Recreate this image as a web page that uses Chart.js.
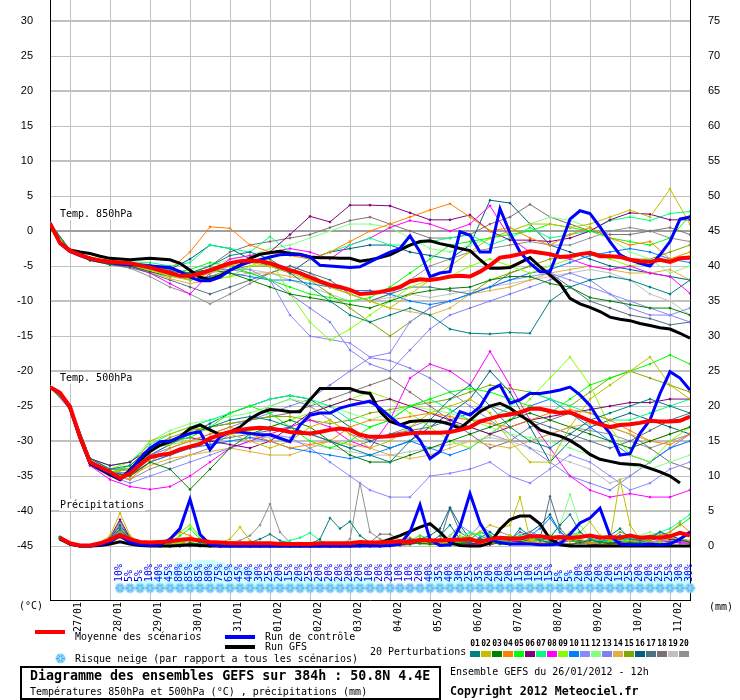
<!DOCTYPE html>
<html lang="fr">
<head>
<meta charset="UTF-8">
<title>Diagramme des ensembles GEFS</title>
<script src="https://cdn.jsdelivr.net/npm/chart.js"></script>
<style>
  body { margin: 0; background: #fff; }
  canvas { display: block; }
</style>
</head>
<body>
<canvas id="gefs" width="740" height="700" style="width:740px;height:700px"></canvas>
<script>
// ---- axes ----
const hours6 = [0,6,12,18,24,30,36,42,48,54,60,66,72,78,84,90,96,102,108,114,120,126,132,138,144,150,156,162,168,174,180,186,192,198,204,210,216,222,228,234,240,246,252,258,264,270,276,282,288,294,300,306,312,318,324,330,336,342,348,354,360,366,372,378,384];
const hours12 = [0,12,24,36,48,60,72,84,96,108,120,132,144,156,168,180,192,204,216,228,240,252,264,276,288,300,312,324,336,348,360,372,384];
const precipHours = hours6.slice(1);
const dayTicks = [12,36,60,84,108,132,156,180,204,228,252,276,300,324,348,372];
const dayLabels = ['27/01','28/01','29/01','30/01','31/01','01/02','02/02','03/02','04/02','05/02','06/02','07/02','08/02','09/02','10/02','11/02'];
const leftTicks = [-45,-40,-35,-30,-25,-20,-15,-10,-5,0,5,10,15,20,25,30];
const rightTicks = [0,5,10,15,20,25,30,35,40,45,50,55,60,65,70,75];

// ---- 850 hPa (°C, 6h) ----
const mean850 = [1.1,-1.7,-2.8,-3.4,-3.9,-4.2,-4.4,-4.5,-4.6,-4.9,-5.2,-5.6,-6.0,-6.4,-6.4,-6.1,-5.6,-5.1,-4.6,-4.3,-4.2,-4.3,-4.6,-5.1,-5.6,-6.0,-6.6,-7.2,-7.7,-8.0,-8.4,-9.0,-8.9,-8.7,-8.4,-8.0,-7.2,-6.9,-7.0,-6.8,-6.5,-6.4,-6.5,-5.8,-4.9,-3.8,-3.6,-3.3,-2.9,-3.1,-3.3,-3.7,-3.6,-3.3,-3.1,-3.6,-3.6,-3.7,-4.1,-4.3,-4.4,-4.1,-4.4,-3.9,-3.8];
const ctrl850 = [1.1,-1.8,-2.9,-3.5,-4.0,-4.3,-4.5,-4.7,-4.8,-4.9,-5.0,-5.1,-5.2,-5.8,-6.6,-7.1,-7.1,-6.6,-5.6,-4.9,-4.4,-4.1,-3.7,-3.4,-3.3,-3.4,-3.7,-4.9,-5.0,-5.1,-5.2,-5.1,-4.4,-3.7,-3.0,-2.5,-0.7,-3.0,-6.5,-6.0,-5.8,-0.1,-0.6,-3.0,-3.0,3.2,-0.3,-3.0,-4.6,-5.8,-5.8,-2.2,1.7,2.9,2.5,0.6,-1.5,-3.4,-4.1,-4.6,-5.0,-3.4,-1.5,1.7,2.0];
const gfs850 = [1.1,-1.7,-2.7,-3.0,-3.2,-3.6,-3.9,-4.0,-4.1,-4.0,-3.9,-4.0,-4.1,-4.6,-5.6,-6.6,-6.9,-6.4,-5.6,-4.9,-3.9,-3.3,-3.1,-2.9,-3.2,-3.3,-3.7,-3.8,-3.8,-3.9,-3.9,-4.3,-4.1,-3.8,-3.4,-2.7,-2.0,-1.5,-1.4,-1.8,-2.1,-2.5,-2.8,-4.1,-5.3,-5.3,-5.2,-4.5,-3.8,-5.1,-6.3,-7.5,-9.6,-10.4,-10.9,-11.5,-12.3,-12.6,-12.8,-13.2,-13.5,-13.8,-14.0,-14.6,-15.3];

// ---- 500 hPa (°C, 6h) ----
const mean500 = [-22.3,-23.1,-25.1,-29.4,-33.0,-33.7,-34.4,-35.3,-34.6,-33.4,-32.3,-32.0,-31.8,-31.2,-30.8,-30.4,-29.6,-29.1,-28.7,-28.4,-28.2,-28.1,-28.2,-28.4,-28.7,-28.8,-28.9,-28.7,-28.4,-28.2,-28.4,-29.1,-29.4,-29.4,-29.3,-29.1,-28.9,-28.8,-28.8,-28.8,-28.7,-28.4,-28.0,-27.2,-26.8,-26.4,-26.2,-25.9,-25.4,-25.4,-25.7,-26.0,-25.9,-26.5,-27.1,-27.6,-28.0,-27.7,-27.6,-27.4,-27.1,-27.2,-27.2,-27.1,-26.5];
const ctrl500 = [-22.3,-23.1,-25.2,-29.5,-33.1,-33.9,-34.6,-35.5,-34.3,-32.5,-31.0,-30.1,-30.0,-29.4,-28.9,-28.7,-31.2,-29.4,-28.7,-28.7,-28.9,-29.1,-29.1,-29.6,-30.1,-27.7,-26.3,-26.0,-26.0,-25.3,-24.9,-24.6,-24.3,-25.3,-26.5,-27.7,-28.2,-29.9,-32.5,-31.5,-28.4,-25.8,-26.3,-25.1,-22.7,-22.0,-24.6,-24.1,-23.2,-23.2,-23.0,-22.7,-22.3,-23.4,-24.9,-27.2,-28.9,-32.0,-31.8,-28.9,-27.0,-23.2,-20.1,-21.0,-22.7];
const gfs500 = [-22.3,-23.1,-25.3,-29.6,-33.2,-34.0,-34.8,-35.5,-34.1,-32.7,-31.5,-30.6,-30.1,-29.4,-28.2,-27.7,-28.4,-29.1,-28.7,-28.0,-26.8,-26.0,-25.5,-25.6,-25.8,-25.8,-24.1,-22.5,-22.5,-22.5,-22.5,-23.0,-23.2,-25.8,-27.2,-27.7,-27.2,-27.1,-27.1,-27.2,-27.6,-28.2,-27.0,-25.8,-25.0,-24.6,-25.3,-26.3,-27.2,-28.4,-28.9,-29.3,-29.9,-30.8,-31.9,-32.6,-32.9,-33.2,-33.3,-33.4,-33.9,-34.4,-35.0,-36.0,null];

// ---- précipitations (mm / 6h, from 6h) ----
const meanPrecip = [1.2,0.4,0.1,0.1,0.4,0.9,1.6,1.0, 0.6,0.5,0.6,0.7,0.9,1.0,0.8,0.6, 0.5,0.4,0.4,0.4,0.4,0.4,0.3,0.3, 0.3,0.3,0.4,0.4,0.4,0.4,0.6,0.5, 0.5,0.6,0.7,0.6,0.9,0.8,0.8,0.9, 0.9,1.0,0.6,1.0,1.2,1.1,1.1,1.4, 1.4,1.2,1.3,1.2,1.3,1.5,1.2,1.3, 1.2,1.5,1.2,1.3,1.2,1.4,1.9,1.5];
const ctrlPrecip = [1.2,0.3,0,0,0.2,0.6,1.5,0.5, 0.2,0.1,0.2,1.0,2.5,6.7,1.7,0.2, 0,0,0,0,0,0,0,0, 0,0,0,0,0,0,0,0, 0,0.1,0.3,2.0,5.9,0.9,0.1,0.2, 2.8,7.5,3.3,0.9,0.5,0.3,0.3,0.3, 0.2,0.2,0.3,1.7,3.3,4.0,5.4,1.5, 0.3,0.2,0.2,0.3,0.2,0.3,1.0,2.0];
const gfsPrecip = [1.0,0.3,0,0,0.1,0.3,0.6,0.3, 0.1,0,0,0,0.1,0.2,0.1,0, 0,0,0,0,0,0,0,0, 0,0,0,0,0,0,0.1,0.2, 0.5,1.0,1.5,2.1,2.7,3.2,2.0,0.5, 0.1,0,0,0.4,2.4,3.8,4.3,4.3, 3.2,1.0,0.2,0,0,0,0,0, 0,0,0,0,0,0,0,0];

// ---- 20 perturbations (12h for temperatures, 6h for precipitation) ----
const memberColors = ['#008080','#c0c000','#008000','#ff8000','#00ff00','#800080','#00ff80','#ff00ff','#80ff00','#0080ff','#8888ff','#80ff80','#8080f0','#e0b040','#80a800','#006080','#507080','#807070','#c0c0c0','#909090'];

const pert850 = [
  [1.1,-2.7,-3.8,-4.3,-4.5,-4.8,-5.5,-6,-5,-3.5,-3, -4,-6,-8,-10,-12,-13,-12,-11,-12,-14,-14.6, -14.7,-14.5,-14.6,-10,-8,-7,-6.5,-7,-8,-9,-7],
  [1.1,-2.8,-3.9,-4.5,-4.7,-5.5,-6.5,-7,-6,-5,-4.5, -5,-6,-7,-8,-9,-10,-11,-9,-7,-5,-3, -1,0,1,1,0.5,1,2,3,2,6,1],
  [1.1,-2.9,-4.2,-4.8,-5,-5.8,-6.5,-6,-5.5,-6,-7, -8,-9,-9.5,-10,-10.5,-11,-10,-9,-8.5,-8.2,-8, -7,-6.5,-6.5,-7.5,-8,-9.5,-10,-10.5,-11,-11,-12],
  [1.1,-2.7,-3.8,-4.2,-4.5,-5,-5.5,-3,0.6,0.4,-2, -3,-3.5,-4,-3,-1.5,0,1,2,3,3.9,2, 0,0.5,-1,-2,-0.5,0.5,-1,-2,-1.5,-4,-3],
  [1.1,-2.8,-4,-4.6,-4.8,-5.5,-6,-5.5,-4.5,-5,-6, -7,-8,-9,-9.5,-10,-9.5,-8,-6,-4,-2,-1.5, -1,-0.5,0,1,0.5,0,-1,-1.5,-2,-1,2.2],
  [1.1,-2.8,-3.9,-4.5,-4.7,-5.2,-5.8,-6,-5.5,-4.5,-4, -3,-0.5,2.1,1.3,3.7,3.7,3.6,2.6,1.6,1.6,2.3, 0,-1.3,-1.3,-1.5,-1,0,1.6,2.6,2.4,1.6,1.6],
  [1.1,-2.7,-3.8,-4.2,-4.4,-4.5,-5,-4.5,-2,-2.5,-3, -0.8,-3,-4,-3,-2,-1,-2,-2,-1.5,-1,-0.5, -2,-1,0.5,-1,-0.5,0,1.5,2,1.5,2.5,2.8],
  [1.1,-2.8,-4,-4.7,-5,-6,-7.5,-9,-6,-4,-3.5, -3,-2.5,-3,-4,-2,-1,0.5,1.5,1,0,1, 3.6,-1,-3,-3.5,-4,-5,-5.5,-5,-6,-6.5,-8.9],
  [1.1,-2.9,-4.1,-4.6,-4.9,-5.6,-6.3,-6.8,-7,-6.5,-5, -4,-9,-13,-15.6,-14,-12,-10,-8,-7,-6.5,-5, -4,-5,-6,-5,-4,-3,-4,-5,-4.5,-4,-3.5],
  [1.1,-2.8,-3.9,-4.4,-4.7,-5.3,-6,-7,-6.5,-6,-6.5, -7,-7,-7.5,-8,-8.5,-8.5,-9,-10,-10.5,-10,-9, -8,-7,-6,-5.5,-4.5,-3.5,-3,-2.5,-3,-4,-4.5],
  [1.1,-2.9,-4.1,-4.7,-5,-5.5,-6,-6.5,-6,-5,-5.5, -7,-12,-15,-15.5,-16,-18,-17.4,-13,-11,-10,-9, -8,-7,-6.5,-6,-7,-8,-9,-10,-11,-12,-11],
  [1.1,-2.8,-3.9,-4.3,-4.6,-5,-5.8,-6,-5,-4,-3.5, -2.5,-2,-1,0,1,1,0.5,-1,-2.5,-3,-2, -1,0,1,2,1.5,0.5,-1,-3,-4,-6,-5],
  [1.1,-2.7,-3.8,-4.4,-4.6,-5,-5.6,-6,-5.5,-5.5,-6, -7,-9,-11,-13,-17,-19,-20,-17,-14,-12,-11, -10,-9,-8,-7,-6,-7,-9,-11,-12,-12,-13],
  [1.1,-2.8,-4,-4.6,-4.9,-5.8,-6.8,-7.5,-7,-6.5,-6, -6,-6.5,-7,-8,-9,-10,-11,-11.5,-12,-11,-9, -8.5,-8,-7,-6,-5.5,-5,-5.5,-6,-6,-5.5,-7],
  [1.1,-2.8,-4,-4.5,-4.8,-5.3,-6.2,-7,-6.5,-5.5,-5, -5,-5.5,-7,-9,-11,-13,-15,-13,-11,-10,-9, -7,-6,-5,-4,-3.5,-3,-3.5,-4,-4,-3,-2],
  [1.1,-2.8,-3.9,-4.4,-4.6,-5,-5.5,-4,-2,-2.5,-4, -5,-6,-4,-3,-2.5,-2,-2,-3,-3.5,-4,-2, 4.4,4,1,-2,-3,-4,-5,-5.5,-6,-6.5,-7],
  [1.1,-2.8,-4,-4.7,-5.2,-6,-7,-8,-9,-8,-7, -6,-5,-6,-7,-9,-10,-9,-8,-8,-8.5,-9, -8,-6,-5,-6,-8,-10,-11,-12,-12.5,-13.4,-13],
  [1.1,-2.8,-3.9,-4.3,-4.6,-5,-5.5,-6,-5,-3,-2, -1.5,-1,-0.5,0.5,1.5,2,1,0,-1,-1,-0.5, 1,2,3.8,2,1,0,-0.5,-0.5,0,0.5,-0.5],
  [1.1,-2.8,-4,-4.5,-4.7,-5.3,-6,-6.5,-6,-5.5,-5.5, -6,-7,-8,-9,-10,-10,-9.5,-9,-9.5,-9,-8.5, -8,-7.5,-7,-6.5,-6,-5.5,-6,-7,-9,-10,-12],
  [1.1,-2.9,-4.2,-4.8,-5.3,-6.5,-8,-9,-10.4,-9,-7.5, -6,-5,-6,-8,-9,-10,-9,-7,-5,-4,-3, -2.5,-2,-1.5,-2,-2,-1,0,0.5,0,-1,-1.5]
];

const pert500 = [
  [-22.3,-25,-32.5,-34,-33.5,-31,-30,-29,-28,-27,-26.5, -27,-28,-29,-30,-31,-32,-33,-30,-27,-24,-22, -25,-28,-30,-31,-29,-27,-26,-25,-24,-25,-26],
  [-22.3,-25.2,-33,-34.5,-34,-30,-29,-28,-28.5,-29,-30, -31,-30,-28,-27,-29,-31,-30,-28,-26,-25,-24, -26,-30,-33,-33,-28,-24,-22,-20,-18,-22,-24],
  [-22.3,-25,-33,-34.5,-35,-33,-34,-36.9,-34,-31,-29, -28,-27,-28,-30,-32,-33,-33,-32,-31,-30,-29, -28,-27,-26,-27,-28,-29,-30,-31,-30,-29,-28],
  [-22.3,-25,-32.8,-34.2,-35.5,-33,-31,-30,-29,-28,-29, -30,-31,-30.5,-30,-28,-27,-27,-26.5,-26,-26.5,-27, -27.5,-28,-27,-26,-25.5,-26,-27,-28.5,-30,-30.5,-29],
  [-22.3,-25.1,-33,-34.5,-33.5,-31,-30,-29.5,-28,-26,-25, -26,-28,-30,-31,-30,-28,-27,-25,-24,-23,-22.5, -23,-24,-25,-26,-24,-22,-21,-20,-19,-17.7,-19],
  [-22.3,-25,-32.5,-33.5,-33,-31,-30,-29.5,-30,-30.5,-31, -30,-28,-26,-25,-24,-24.5,-24,-25,-26,-27,-28, -29,-28,-27,-26.5,-26,-25.5,-25,-24.5,-24.5,-24,-24],
  [-22.3,-25,-32.5,-33.5,-33,-30.5,-29,-28,-27,-26,-25, -24,-23.5,-24,-25,-27,-28,-27,-25,-24,-25.5,-27, -27,-25,-23,-24,-25,-26,-27,-27,-26,-25,-24],
  [-22.3,-25.3,-33.5,-35.5,-36.5,-36.9,-36.5,-35,-33,-31,-30, -29,-28,-27,-28,-30,-31,-27,-21,-19,-20,-22, -17.2,-22,-27,-31,-35,-37,-38,-37.5,-38,-38,-37],
  [-22.3,-25.2,-33,-34,-33,-31,-30.5,-30,-29.5,-29,-28.5, -28,-27,-26,-25,-24,-23,-24,-26,-28,-30,-31, -29,-27,-24,-21,-18,-22,-28,-32,-33,-30,-28],
  [-22.3,-25,-32.8,-34.5,-34.8,-33,-32,-31,-30.5,-30,-29.5, -30,-31,-31.5,-32,-32.5,-32,-31,-30,-31,-32,-31, -29,-27,-25,-24,-26,-28,-30,-32,-33,-31,-30],
  [-22.3,-25.5,-33.5,-35,-36,-35,-34,-33,-32,-31,-30, -29,-29.5,-31,-33,-35,-37,-38,-38,-35,-34.6,-34, -33,-35,-36,-34,-32,-33,-35,-37,-36,-34,-33],
  [-22.3,-25,-32.5,-33.5,-33,-30,-28.5,-27.5,-27,-26.5,-26, -25,-24,-24.5,-25,-26,-27,-26,-25,-25.5,-26,-27, -28,-29,-29.5,-30,-31,-32,-33,-33.5,-34,-33,-32],
  [-22.3,-25.2,-33,-34.5,-34.5,-32,-31,-30,-29,-28,-27, -26,-25,-24,-22,-20,-18.1,-18.5,-19.6,-21,-23,-25, -27,-29,-31,-33,-35,-36,-37,-35,-33,-31,-29],
  [-22.3,-25,-33,-34.8,-35,-33.5,-32.5,-32,-31.5,-31,-31.5, -32,-32,-31,-30,-30.5,-31,-32,-32.5,-32,-31,-30, -30.5,-31,-30,-29,-28,-27.5,-28,-29,-30,-29,-28],
  [-22.3,-25.1,-33,-34.5,-34,-31,-29.5,-28.5,-28,-27.5,-27, -26.5,-26.5,-27,-27.5,-27,-26,-25.5,-25,-24.5,-24,-23, -22,-22.5,-23,-24,-25,-23,-21,-20,-21,-22,-23],
  [-22.3,-25,-32.5,-34,-34,-32,-30.5,-29,-27.5,-26,-25, -24,-23.5,-24,-26,-28,-30,-31,-30,-28,-26,-24, -20,-23,-28,-33,-30,-28,-27,-26,-27,-28,-29],
  [-22.3,-25.2,-33,-34.5,-35,-33,-32,-31,-30,-29.5,-29, -28.5,-28,-29,-30,-31,-30,-29,-28.5,-28,-27,-26, -25,-26,-27,-28,-29,-30,-31,-30,-28.5,-27,-26],
  [-22.3,-25,-33,-34.5,-34,-31.5,-30,-29,-28,-27.5,-27, -26.5,-26,-25,-24,-23,-22,-21,-23,-25,-27,-29, -31,-30,-28,-27,-26,-27,-28,-29,-31,-33,-34],
  [-22.3,-25,-33,-34.5,-34.5,-32.5,-31.5,-31,-30.5,-30,-29.5, -29.5,-30,-30.5,-31,-31.5,-32,-32,-31.5,-31,-30.5,-30, -29.5,-30,-31,-32,-33,-34,-36,-35,-33,-31,-30],
  [-22.3,-25.3,-33.5,-35,-35.5,-34,-33,-32,-31,-29,-27, -25,-24,-25,-27,-29,-30,-29,-28,-27,-27.5,-28, -29,-30,-30,-29,-28,-28.5,-29,-30,-31,-30,-29]
];

const pertPrecip = [
  [1.3,0.4,0,0,0.3,0.8,2.5,1.0, 0.3,0.2,0.3,0.5,0.8,1.0,0.5,0.2, 0.1,0,0.2,0.5,1.0,1.7,0.8,0.3, 0.2,0.3,1.0,4.0,2.5,3.5,1.5,0.5, 0.3,0.2,0.5,1.0,0.8,0.6,1.5,3.0, 1.0,0.5,1.2,2.0,1.0,0.8,2.5,1.5, 0.8,1.2,3.0,4.5,2.0,1.0,0.5,1.5, 2.5,1.0,0.8,1.2,2.0,1.5,1.0,1.8],
  [1.2,0.3,0,0,0.5,1.5,4.7,1.5, 0.4,0.2,0.1,0.3,0.5,0.3,0.2,0.3, 0.5,1.0,2.7,0.8,0.2,0.1,0,0, 0,0.1,0.2,0.3,0.2,0.1,0.3,0.5, 0.8,0.5,0.4,0.6,1.0,0.8,0.5,0.5, 1.0,1.5,2.0,3.0,2.5,3.0,7.0,1.0, 0.8,1.2,1.0,0.8,2.0,3.5,1.5,0.8, 9.5,3.0,1.0,0.5,0.8,1.2,1.0,0.8],
  [1.1,0.3,0,0,0.2,0.6,1.5,0.8, 0.3,0.1,0,0,0.2,0.5,0.3,0.1, 0,0,0,0,0,0,0,0, 0,0,0,0,0,0,0,0, 0.1,0.2,0.3,0.5,0.4,0.3,0.2,0.1, 0.3,0.6,1.0,0.5,0.3,0.2,0.5,1.0, 0.8,0.5,0.3,0.2,0.5,0.8,0.6,0.4, 0.3,0.5,0.4,0.3,0.2,0.5,1.0,0.6],
  [1.0,0.3,0,0,0.2,0.5,1.2,0.6, 0.2,0.1,0.3,0.8,2.0,1.5,0.6,0.3, 0.1,0,0,0,0,0,0.1,0.2, 0.1,0,0,0,0,0,0.1,0.2, 0.3,0.5,0.8,1.2,0.6,0.3,0.2,0.5, 1.0,0.8,0.4,0.3,0.5,0.8,1.0,0.6, 0.4,0.3,0.2,0.3,0.5,0.4,0.3,0.2, 0.4,0.6,0.8,1.0,1.5,2.0,3.2,2.0],
  [1.2,0.4,0,0,0.3,0.8,2.0,1.0, 0.3,0.2,0.1,0.5,1.5,2.5,1.0,0.3, 0.1,0,0,0,0,0,0,0, 0,0,0,0.1,0.2,0.1,0,0, 0.2,0.3,0.5,0.8,1.5,1.0,0.5,0.3, 0.5,1.0,2.0,1.5,0.8,0.5,0.3,0.5, 1.0,1.5,1.0,0.8,0.5,0.3,0.5,0.8, 1.0,0.6,0.4,0.8,1.5,2.0,3.0,4.0],
  [1.3,0.4,0,0,0.4,1.2,3.8,1.2, 0.4,0.2,0.1,0,0,0.2,0.1,0, 0,0,0,0,0,0,0,0, 0,0,0,0,0,0,0,0, 0,0.1,0.2,0.3,0.5,0.3,0.2,0.3, 0.5,0.4,0.3,0.2,0.5,0.8,0.6,0.4, 0.3,0.5,1.0,0.8,0.5,0.3,0.2,0.4, 0.6,0.5,0.4,0.8,1.2,1.0,0.8,0.6],
  [1.1,0.3,0,0,0.2,0.5,1.5,0.6, 0.2,0.1,0,0.2,0.5,1.0,0.5,0.2, 0.1,0,0,0,0,0.2,0.5,0.8, 1.2,1.9,0.8,0.3,0.1,0,0,0, 0.2,0.5,0.3,0.2,0.5,1.0,0.8,0.5, 1.0,2.0,1.5,1.0,0.8,1.2,1.5,1.0, 0.8,0.6,1.0,1.5,2.0,1.0,0.8,0.5, 0.8,1.0,1.2,1.5,2.0,2.5,3.5,4.5],
  [1.2,0.4,0,0,0.3,0.8,2.2,0.8, 0.3,0.1,0,0,0.1,0.2,0.1,0, 0,0,0,0,0,0,0,0, 0,0,0,0,0,0,0,0, 0,0,0.1,0.3,0.5,1.0,0.8,0.5, 0.3,0.2,0.3,0.5,1.2,0.8,0.5,0.3, 0.2,0.3,0.5,0.8,0.5,0.3,0.2,0.3, 0.5,0.4,0.3,0.5,0.8,0.6,0.5,0.4],
  [1.1,0.3,0,0,0.2,0.6,1.8,0.8, 0.3,0.2,0.5,1.0,2.0,3.0,1.5,0.5, 0.2,0,0,0,0,0,0,0, 0,0,0,0,0,0,0,0.1, 0.2,0.1,0,0.2,0.5,0.3,0.2,0.5, 1.5,1.0,0.5,0.3,0.8,1.5,1.0,0.5, 0.3,0.5,1.0,2.0,1.5,1.0,0.5,0.3, 0.5,0.8,0.5,0.3,0.5,1.0,0.8,0.5],
  [1.0,0.3,0,0,0.2,0.5,1.2,0.5, 0.2,0.1,0,0,0.2,0.3,0.2,0.1, 0,0,0,0,0,0,0,0, 0,0,0,0,0,0,0,0, 0,0.1,0.2,0.5,1.0,0.5,0.3,0.2, 0.5,1.0,2.0,1.5,0.5,0.3,0.5,1.5, 2.5,4.0,2.0,0.8,0.5,0.3,0.5,1.0, 1.5,0.8,0.5,1.0,2.0,1.5,1.0,0.8],
  [1.2,0.3,0,0,0.2,0.5,1.2,0.6, 0.2,0.1,0,0,0,0.1,0,0, 0,0,0,0,0,0,0,0, 0,0,0,0,0,0,0,0, 0.1,0.3,0.5,1.0,0.8,0.5,0.3,0.2, 0.5,1.5,3.0,2.0,1.0,0.5,0.8,1.2, 0.8,0.5,0.3,0.2,0.5,1.0,0.8,0.5, 0.3,0.5,0.8,1.2,1.0,0.8,0.6,0.5],
  [1.1,0.3,0,0,0.3,0.7,2.0,0.8, 0.3,0.2,0.3,1.0,2.0,3.0,1.2,0.4, 0.2,0,0,0,0,0,0,0, 0,0,0,0,0,0,0,0, 0,0,0.2,0.5,0.3,0.2,0.5,1.5, 2.5,1.0,0.5,0.3,0.5,1.0,1.5,1.0, 0.8,1.5,3.0,7.4,3.0,1.0,0.5,0.3, 0.5,1.0,1.5,2.0,1.5,1.0,0.8,0.6],
  [1.2,0.4,0,0,0.2,0.6,1.5,0.6, 0.2,0.1,0,0,0,0,0,0, 0,0,0,0,0,0,0,0, 0,0,0,0,0,0,0,0, 0,0,0.2,0.5,1.0,0.8,0.5,1.5, 3.0,2.0,1.0,0.5,0.3,0.5,1.0,2.0, 1.5,0.8,0.5,0.3,0.5,1.0,0.8,0.5, 0.3,0.2,0.5,1.0,0.8,0.6,0.4,0.3],
  [1.1,0.3,0,0,0.3,0.6,1.8,0.8, 0.3,0.2,0.1,0.2,0.5,0.8,0.5,0.2, 0,0,0,0,0,0,0,0, 0,0,0,0,0,0,0,0, 0,0.1,0.3,0.5,0.8,0.5,0.3,0.2, 0.3,0.5,0.8,0.5,0.3,0.5,1.0,0.8, 0.5,0.3,0.5,0.8,1.0,0.5,0.3,0.5, 1.0,1.5,1.0,0.5,0.3,0.5,0.8,0.5],
  [1.2,0.4,0,0,0.3,0.8,2.5,1.0, 0.4,0.2,0.1,0.2,0.4,0.3,0.2,0.1, 0,0,0,0,0,0,0,0, 0,0,0,0,0,0,0,0, 0,0,0.2,0.5,0.3,0.2,0.5,1.0, 0.8,0.5,0.3,0.5,1.0,1.5,1.0,0.5, 0.3,0.5,1.0,0.8,0.5,0.3,0.5,1.0, 2.0,1.5,1.0,0.5,0.3,0.5,0.8,0.5],
  [1.3,0.4,0,0,0.4,1.0,3.0,1.2, 0.4,0.2,0.1,0.3,0.5,0.3,0.2,0.1, 0,0,0,0,0,0,0,0, 0,0,0,0,0,0,0,0, 0,0,0.2,0.5,1.0,1.5,2.5,5.5, 3.0,1.0,0.5,0.3,0.5,1.0,1.5,2.0, 3.0,4.5,2.0,1.0,0.8,0.5,0.3,0.5, 1.0,0.8,0.5,0.3,0.5,1.0,0.8,0.6],
  [1.2,0.3,0,0,0.3,0.8,2.2,0.9, 0.3,0.2,0.2,0.3,0.5,0.3,0.2,0.2, 0.1,0,0,0,0,0,0,0, 0,0,0,0,0,0,0,0, 0,0.1,0.3,0.5,0.8,1.0,0.8,5.4, 2.0,1.0,0.5,0.3,0.5,1.0,2.0,1.5, 1.0,7.1,2.5,1.0,0.5,0.3,0.5,1.0, 1.5,1.0,0.8,0.5,0.8,1.2,0.8,0.5],
  [1.1,0.3,0,0,0.3,0.9,3.5,1.0, 0.3,0.1,0,0,0,0,0,0, 0,0,0,0,0,0,0,0, 0,0,0,0,0,0,0,0.5, 1.7,1.7,0.8,0.3,0.5,1.0,0.8,0.5, 0.3,0.5,1.0,1.5,1.0,0.5,0.3,0.5, 1.0,0.8,0.5,0.3,0.5,1.0,1.5,1.0, 0.5,0.3,0.5,1.0,1.5,1.0,0.8,0.5],
  [1.0,0.3,0,0,0.2,0.5,1.3,0.5, 0.2,0.1,0,0,0,0,0,0, 0,0,0,0,0,0,0,0, 0,0,0,0,0,0,0,0, 0,0,0.2,0.4,0.8,0.5,0.3,0.5, 1.0,0.8,0.5,0.3,0.5,0.8,1.0,0.6, 0.4,0.3,0.5,0.8,1.0,0.6,0.4,0.3, 0.5,0.8,1.0,1.2,1.5,1.0,0.8,0.6],
  [1.2,0.4,0,0,0.3,0.8,2.8,1.0, 0.3,0.2,0.2,0.3,0.5,0.3,0.2,0.2, 0.3,0.5,0.8,1.5,3.0,6.0,2.0,0.5, 0.2,0.1,0,0,0,1.0,9.0,2.0, 1.0,0.5,0.3,0.5,1.0,0.8,1.0,0.8, 0.5,0.3,0.5,1.0,2.0,1.5,1.0,0.8, 0.5,0.3,0.5,1.0,0.8,0.5,0.3,0.5, 1.0,0.8,0.5,0.3,0.5,0.8,0.5,0.3]
];

// ---- risque neige (% des scénarios, pas de 6h depuis 42h) ----
const snowHours = [42,48,54,60,66,72,78,84,90,96,102,108,114,120,126,132,138,144,150,156,162,168,174,180,186,192,198,204,210,216,222,228,234,240,246,252,258,264,270,276,282,288,294,300,306,312,318,324,330,336,342,348,354,360,366,372,378,384];
const snowRisk = [10,5,5,10,40,45,80,85,85,80,75,65,45,40,30,25,20,15,20,25,20,20,20,20,20,10,20,20,10,10,20,40,35,40,30,25,35,20,20,20,15,10,15,15,5,5,20,20,20,20,15,25,20,20,25,25,30,30];
const snowShade = [0,0,24,30,55,55,79,79,85,85,79,70,61,61,46,46,46,46,46,33,33,33,33,33,33,33,0,0,0,0,0,49,49,49,49,49,49,49,49,49,49,49,49,49,49,49,49,49,49,49,49,49,49,49,49,49,49,49];

const mono = "'DejaVu Sans Mono', monospace";
const sans = "'Liberation Sans', Arial, sans-serif";

// petit flocon dessiné à la main
function makeFlake(size) {
  const cv = document.createElement('canvas');
  cv.width = size; cv.height = size;
  const g = cv.getContext('2d');
  const r = size / 2;
  g.fillStyle = '#8ed6fa';
  g.beginPath(); g.arc(r, r, r - 0.5, 0, Math.PI * 2); g.fill();
  g.strokeStyle = '#3aa4e4'; g.lineWidth = 1;
  for (let k = 0; k < 3; k++) {
    const a = k * Math.PI / 3;
    g.beginPath();
    g.moveTo(r + Math.cos(a) * (r - 1), r + Math.sin(a) * (r - 1));
    g.lineTo(r - Math.cos(a) * (r - 1), r - Math.sin(a) * (r - 1));
    g.stroke();
  }
  g.fillStyle = '#e6f7ff'; g.fillRect(r - 1, r - 1, 2, 2);
  return cv;
}
const flake = makeFlake(11);

const xy = (hours, vals) => hours.map((h, i) => ({ x: h, y: vals[i] }));

function memberSet(vals, hours, color, axis) {
  return {
    data: xy(hours, vals), yAxisID: axis,
    borderColor: color, backgroundColor: color, borderWidth: 1,
    pointStyle: 'rectRot', pointRadius: 1.6, pointBorderWidth: 0,
    tension: 0, order: 5
  };
}
function mainSet(vals, hours, color, width, axis, order) {
  return {
    data: xy(hours, vals), yAxisID: axis,
    borderColor: color, backgroundColor: color, borderWidth: width,
    pointRadius: 0, tension: 0, order: order
  };
}

const datasets = [];
datasets.push(mainSet(mean850, hours6, '#ff0000', 4, 'y', 0));
datasets.push(mainSet(mean500, hours6, '#ff0000', 4, 'y', 0));
datasets.push(mainSet(meanPrecip, precipHours, '#ff0000', 4, 'y2', 0));
datasets.push(mainSet(ctrl850, hours6, '#0000ff', 3, 'y', 1));
datasets.push(mainSet(ctrl500, hours6, '#0000ff', 3, 'y', 1));
datasets.push(mainSet(ctrlPrecip, precipHours, '#0000ff', 3, 'y2', 1));
datasets.push(mainSet(gfs850, hours6, '#000000', 3, 'y', 2));
datasets.push(mainSet(gfs500, hours6, '#000000', 3, 'y', 2));
datasets.push(mainSet(gfsPrecip, precipHours, '#000000', 3, 'y2', 2));
memberColors.forEach((col, m) => {
  datasets.push(memberSet(pert850[m], hours12, col, 'y'));
  datasets.push(memberSet(pert500[m], hours12, col, 'y'));
  datasets.push(memberSet(pertPrecip[m], precipHours, col, 'y2'));
});
// bande du risque neige : fond cyan + flocons
datasets.push({
  data: snowHours.map((h, i) => ({ x: h, y: -6 + snowShade[i] / 21.25 })), yAxisID: 'y2',
  fill: { value: -6 }, backgroundColor: '#ccffff', borderColor: 'rgba(0,0,0,0)', borderWidth: 0,
  pointRadius: 0, stepped: 'middle', order: 20
});
datasets.push({
  data: snowHours.map(h => ({ x: h, y: -6 })), yAxisID: 'y2',
  showLine: false, pointStyle: flake, pointRadius: 5, clip: false, order: 19
});

const decor = {
  id: 'decor',
  beforeDatasetsDraw(chart) {
    const c = chart.ctx, left = chart.chartArea.left;
    c.save();
    c.font = '10px ' + mono;
    c.textBaseline = 'middle';
    [['Temp. 850hPa', 214], ['Temp. 500hPa', 378], ['Précipitations', 505]].forEach(([t, y]) => {
      const w = c.measureText(t).width;
      c.fillStyle = '#fff'; c.fillRect(left + 9, y - 6, w + 2, 12);
      c.fillStyle = '#000'; c.fillText(t, left + 10, y);
    });
    c.restore();
  },
  afterDatasetsDraw(chart) {
    const c = chart.ctx, xs = chart.scales.x;
    c.save();
    c.font = '10px ' + mono;
    c.fillStyle = '#0000ff';
    c.textAlign = 'left'; c.textBaseline = 'middle';
    snowHours.forEach((h, i) => {
      c.save();
      c.translate(xs.getPixelForValue(h) - 1, 582);
      c.rotate(-Math.PI / 2);
      c.fillText(snowRisk[i] + '%', 0, 0);
      c.restore();
    });
    c.restore();
  },
  afterDraw(chart) {
    const c = chart.ctx;
    c.save();
    c.textBaseline = 'middle';
    c.fillStyle = '#000';
    c.font = '10px ' + mono;
    c.textAlign = 'center';
    c.fillText('(°C)', 31, 606);
    c.fillText('(mm)', 721, 607);
    c.textAlign = 'left';

    // légende
    c.fillStyle = '#ff0000'; c.fillRect(35, 630, 30, 4);
    c.fillStyle = '#0000ff'; c.fillRect(225, 635, 30, 4);
    c.fillStyle = '#000000'; c.fillRect(225, 645, 30, 4);
    c.fillText('Moyenne des scénarios', 75, 637);
    c.fillText('Run de contrôle', 265, 637);
    c.fillText('Run GFS', 265, 647);
    c.drawImage(flake, 55, 653);
    c.fillText('Risque neige (par rapport a tous les scénarios)', 75, 659);

    c.fillText('20 Perturbations', 370, 652);
    c.font = 'bold 8px ' + mono;
    c.textAlign = 'center';
    memberColors.forEach((col, i) => {
      const x = 470 + 11 * i;
      c.fillStyle = '#000';
      c.fillText(String(i + 1).padStart(2, '0'), x + 5, 644);
      c.fillStyle = col;
      c.fillRect(x, 651, 10, 6);
    });

    // cartouche
    c.textAlign = 'left';
    c.strokeStyle = '#000'; c.lineWidth = 2;
    c.strokeRect(21, 667, 419, 32);
    c.fillStyle = '#000';
    c.font = 'bold 13.3px ' + mono;
    c.fillText('Diagramme des ensembles GEFS sur 384h : 50.8N 4.4E', 30, 677);
    c.font = '10px ' + mono;
    c.fillText('Températures 850hPa et 500hPa (°C) , précipitations (mm)', 30, 692);
    c.fillText('Ensemble GEFS du 26/01/2012 - 12h', 450, 672);
    c.font = 'bold 11.6px ' + mono;
    c.fillText('Copyright 2012 Meteociel.fr', 450, 692);
    c.restore();
  }
};

Chart.defaults.font.family = mono;
Chart.defaults.color = '#000';

new Chart(document.getElementById('gefs'), {
  type: 'line',
  data: { datasets },
  options: {
    responsive: false,
    devicePixelRatio: 1,
    animation: false,
    layout: { autoPadding: false, padding: { top: 0, left: 0, right: 0, bottom: 55 } },
    plugins: { legend: { display: false }, tooltip: { enabled: false } },
    scales: {
      x: {
        type: 'linear', min: 0, max: 384,
        afterBuildTicks: s => { s.ticks = dayTicks.map(v => ({ value: v })); },
        ticks: {
          callback: (v, i) => dayLabels[i],
          autoSkip: false, minRotation: 90, maxRotation: 90,
          labelOffset: 8, padding: 2, font: { family: mono, size: 10 }, color: '#000'
        },
        grid: { color: '#c0c0c0', lineWidth: 1, drawTicks: false },
        border: { display: true, color: '#000', width: 1 },
        afterFit: s => { s.height = 45; s.paddingLeft = 0; s.paddingRight = 0; }
      },
      y: {
        position: 'left', min: -52.7, max: 33,
        afterBuildTicks: s => { s.ticks = leftTicks.map(v => ({ value: v })); },
        ticks: { autoSkip: false, padding: 17, font: { family: sans, size: 11 }, color: '#000' },
        grid: {
          color: ctx => ctx.tick && ctx.tick.value === 0 ? '#a0a0a0' : '#c0c0c0',
          lineWidth: ctx => ctx.tick && ctx.tick.value % 10 === 0 ? 2 : 1,
          drawTicks: false
        },
        border: { display: true, color: '#000', width: 1 },
        afterFit: s => { s.width = 50; s.paddingTop = 0; s.paddingBottom = 0; }
      },
      y2: {
        position: 'right', min: -7.7, max: 78,
        afterBuildTicks: s => { s.ticks = rightTicks.map(v => ({ value: v })); },
        ticks: { autoSkip: false, padding: 18, font: { family: sans, size: 11 }, color: '#000' },
        grid: { drawOnChartArea: false, drawTicks: false },
        border: { display: true, color: '#000', width: 1 },
        afterFit: s => { s.width = 50; s.paddingTop = 0; s.paddingBottom = 0; }
      }
    }
  },
  plugins: [decor]
});
</script>
</body>
</html>
